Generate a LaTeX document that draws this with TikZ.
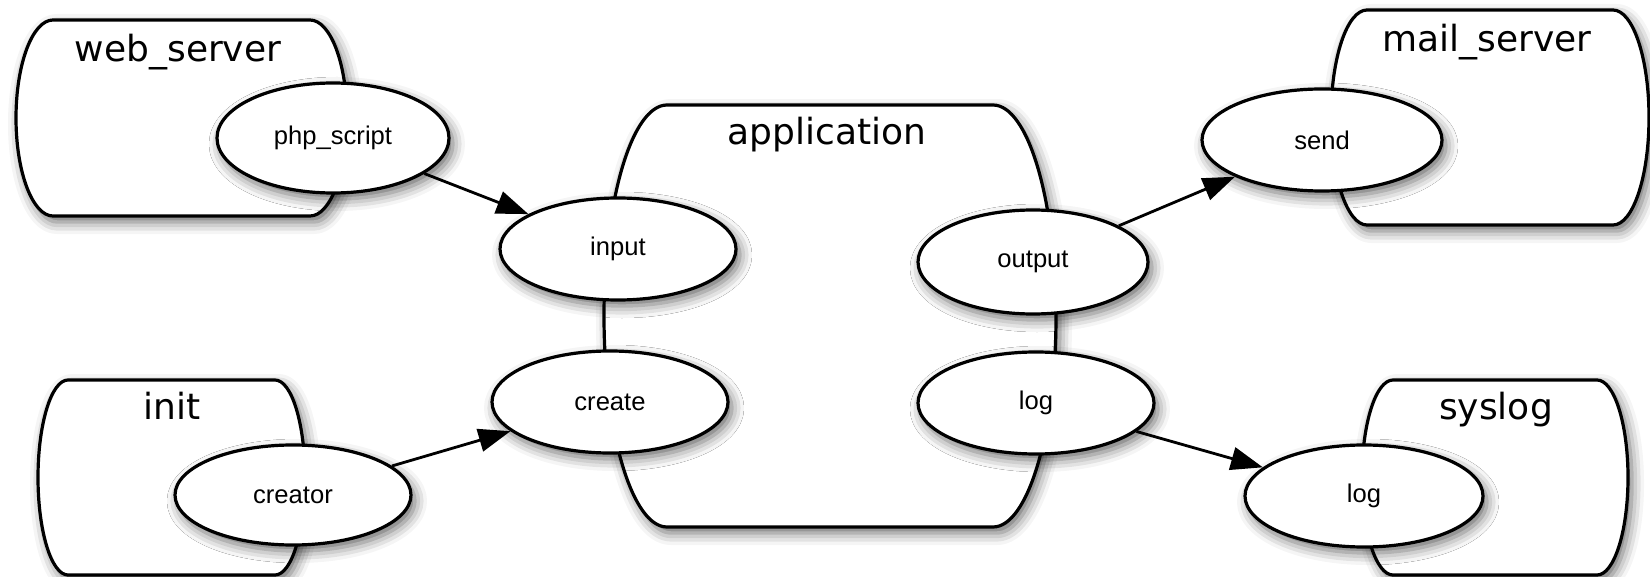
\documentclass[tikz,border=0pt]{standalone}
\usepackage{fontspec}
\setmainfont{Liberation Sans}
\newfontfamily\titlefont{DejaVu Sans}
\usetikzlibrary{shapes.geometric,shadows.blur,arrows.meta}

\begin{document}
\begin{tikzpicture}[x=0.5pt,y=0.5pt,
    box/.style={draw,line width=1.6pt,fill=white,
      blur shadow={shadow xshift=2pt,shadow yshift=-3pt,shadow blur radius=6pt,shadow opacity=60}},
    port/.style={ellipse,draw,line width=1.6pt,fill=white,inner sep=0pt,
      minimum width=118pt,minimum height=51pt,font=\fontsize{12.8}{14}\selectfont,
      blur shadow={shadow xshift=2pt,shadow yshift=-3pt,shadow blur radius=6pt,shadow opacity=60}},
    title/.style={anchor=base,font=\titlefont\fontsize{18}{20}\selectfont},
    flow/.style={-{Triangle[length=16pt,width=11.5pt,fill=black]},line width=1.4pt,fill opacity=1,draw opacity=1}]
        \useasboundingbox (0,0) rectangle (1650,-577);

        % containers
        \draw[box](53,-20)--(310,-20)arc[start angle=90,end angle=-90,x radius=37,y radius=98]--(53,-216)arc[start angle=270,end angle=90,x radius=37,y radius=98]--cycle;
        \draw[box](1367,-10)--(1613,-10)arc[start angle=90,end angle=-90,x radius=36,y radius=107.5]--(1367,-225)arc[start angle=270,end angle=90,x radius=36,y radius=107.5]--cycle;
        \draw[box](667,-105)--(993,-105)arc[start angle=90,end angle=-90,x radius=63,y radius=211]--(667,-527)arc[start angle=270,end angle=90,x radius=63,y radius=211]--cycle;
        \draw[box](68,-380)--(275,-380)arc[start angle=90,end angle=-90,x radius=30,y radius=97.5]--(68,-575)arc[start angle=270,end angle=90,x radius=30,y radius=97.5]--cycle;
        \draw[box](1393,-380)--(1597,-380)arc[start angle=90,end angle=-90,x radius=31,y radius=97.5]--(1393,-575)arc[start angle=270,end angle=90,x radius=31,y radius=97.5]--cycle;

        \node[title](webserver) at (178,-62){web\_server};
        \node[title](mailserver) at (1487,-52){mail\_server};
        \node[title](application) at (827,-145){application};
        \node[title](init) at (172,-420){init};
        \node[title](syslog) at (1496,-420){syslog};

        % ports
        \node[port,minimum width=116pt,minimum height=55pt](phpscript) at (333,-138){php\_script};
        \node[port](input) at (618,-249){input};
        \node[port](create) at (610,-402){create};
        \node[port,minimum width=115pt,minimum height=52pt](output) at (1033,-262){output};
        \node[port](log) at (1036,-403){log};
        \node[port,minimum width=120pt](send) at (1322,-140){send};
        \node[port,minimum height=50pt](creator) at (293,-495){creator};
        \node[port,minimum width=119pt](syslogin) at (1364,-496){log};

        \draw[flow](phpscript)--(input);
        \draw[flow](creator)--(create);
        \draw[flow](output)--(send);
        \draw[flow](log)--(syslogin);

    \end{tikzpicture}
\end{document}
